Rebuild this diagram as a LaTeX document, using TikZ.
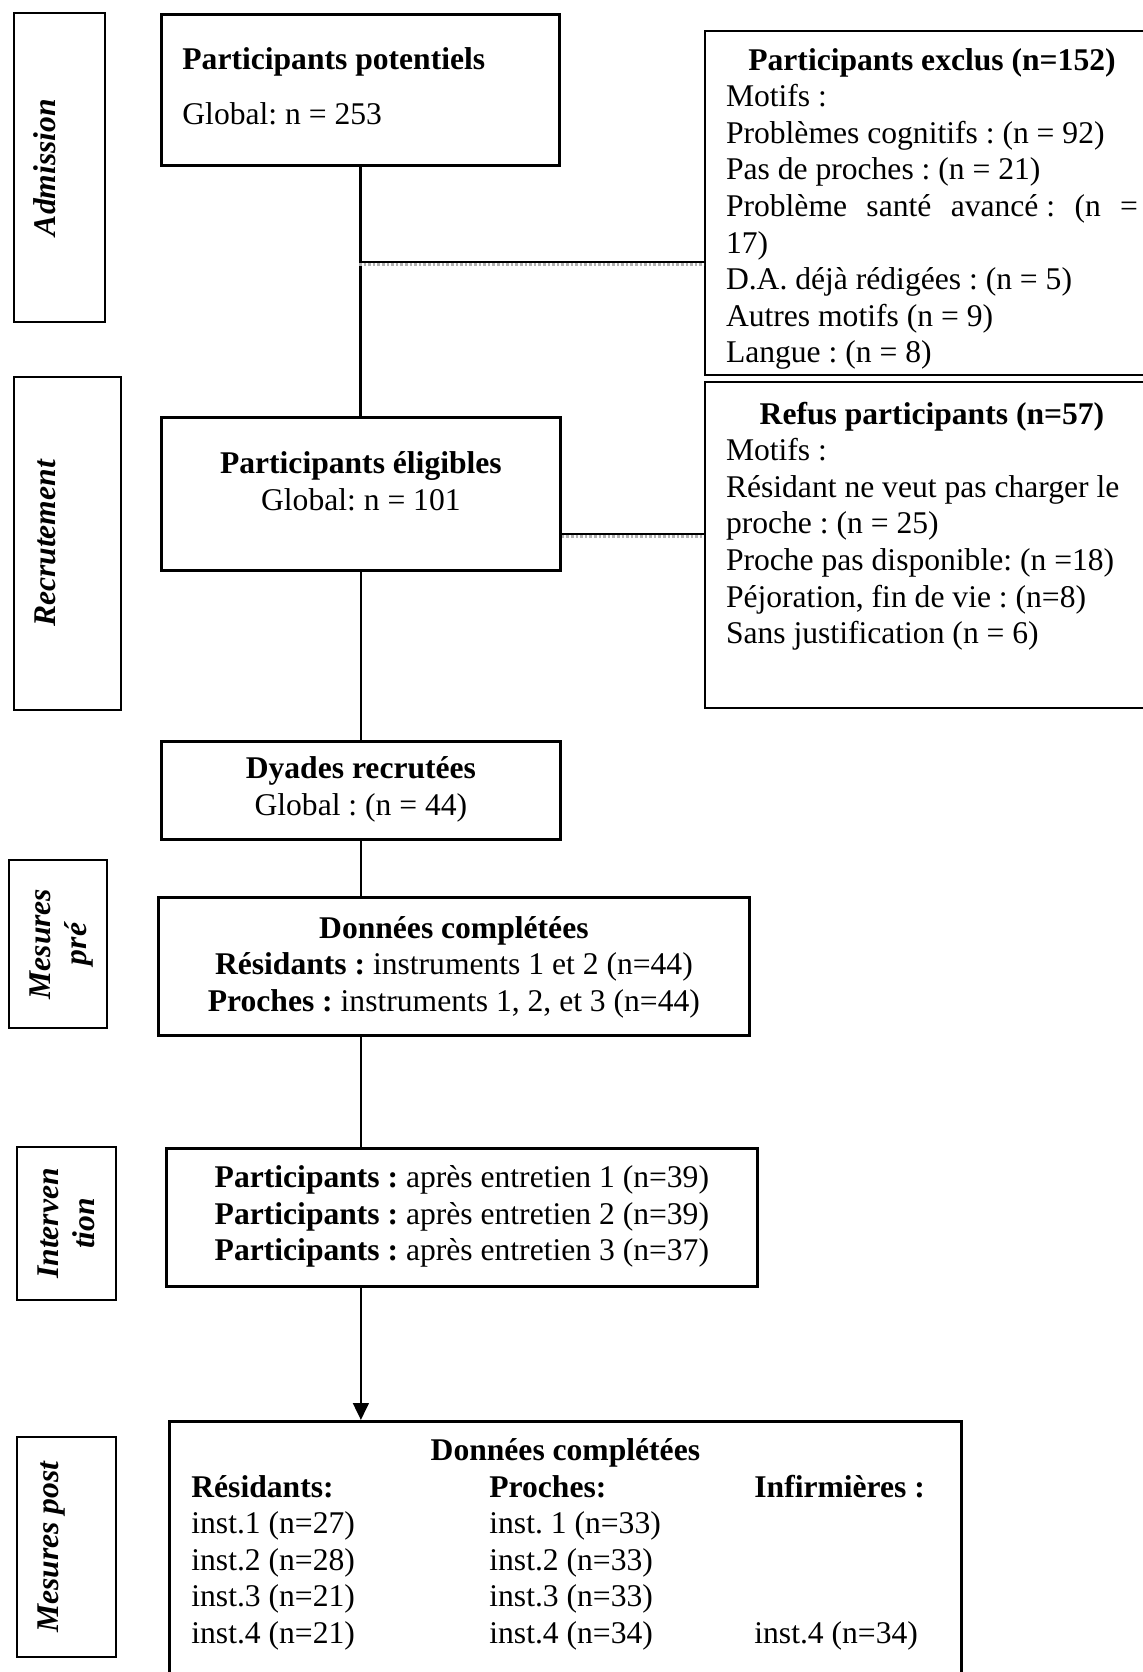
\documentclass[tikz,border=0pt]{standalone}
\usepackage{fontspec}
\setmainfont{Liberation Serif}
\usepackage{tikz}
\usetikzlibrary{shapes,arrows.meta,positioning,calc}
\frenchspacing
\newcommand{\diagfont}{\fontsize{15.8pt}{18.3pt}\selectfont}
\tikzstyle{block} = [rectangle, draw, line width=1.4pt, anchor=north west, inner xsep=5pt, inner ysep=0pt, align=flush center]
\tikzstyle{motif} = [rectangle, draw, line width=1pt, anchor=north west, inner xsep=10.5pt, inner ysep=0pt, align=flush left, text width=206pt]
\tikzstyle{phase} = [rectangle, draw, line width=1pt, rotate=90, anchor=north, inner sep=0pt, align=flush center, text height=20.5pt, font=\diagfont\bfseries\itshape]
\tikzstyle{side} = [line width=1.3pt, preaction={draw, gray!60, line width=1.3pt, densely dotted, transform canvas={yshift=-1.35pt}}]
\tikzstyle{spine} = [line width=1.4pt]

\begin{document}
\begin{tikzpicture}[x=0.5pt, y=-0.5pt, font=\diagfont, >={Triangle[length=8.5pt,width=7.8pt]}]
    \useasboundingbox (0,0) rectangle (1143,1672);

    % Admission
    \node[phase, text width=154.5pt, text depth=25pt] (admis) at (13,167.5) {Admission};
    \node[block, align=flush left, inner xsep=10.5pt, text width=178pt, text height=27.5pt, text depth=48pt] (pot) at (160,13)
        {\textbf{Participants potentiels}\\[9.2pt]Global: n = 253};
    \node[motif, text height=19.5pt, text depth=152.5pt] (excl) at (704,30)
        {\makebox[206pt]{\textbf{Participants exclus (n=152)}}\\
         Motifs :\\
         Problèmes cognitifs : (n = 92)\\
         Pas de proches : (n = 21)\\
         \makebox[206pt][s]{Problème santé avancé\kern.25em: (n =}\\
         17)\\
         D.A. déjà rédigées : (n = 5)\\
         Autres motifs (n = 9)\\
         Langue : (n = 8)};

    % Recrutement
    \node[phase, text width=166.5pt, text depth=33pt] (recru) at (13,543.5) {Recrutement};
    \node[block, text width=189.5pt, text height=28pt, text depth=48.5pt] (elig) at (160,416)
        {\textbf{Participants éligibles}\\Global: n = 101};
    \node[motif, text height=21pt, text depth=142pt] (refus) at (704,381)
        {\makebox[206pt]{\textbf{Refus participants (n=57)}}\\
         Motifs :\\
         Résidant ne veut pas charger le\\
         proche : (n = 25)\\
         Proche pas disponible: (n =18)\\
         Péjoration, fin de vie : (n=8)\\
         Sans justification (n = 6)};
    \node[block, text width=189.5pt, text height=18.5pt, text depth=30.5pt] (dyad) at (160,740)
        {\textbf{Dyades recrutées}\\Global : (n = 44)};

    % Mesures pré
    \node[phase, text width=84pt, text depth=28.5pt] (mpre) at (8,944) {Mesures\\pré};
    \node[block, text width=285.5pt, text height=20.3pt, text depth=48.7pt] (pre) at (157,896)
        {\textbf{Données complétées}\\
         \textbf{Résidants :} instruments 1 et 2 (n=44)\\
         \textbf{Proches :} instruments 1, 2, et 3 (n=44)};

    % Intervention
    \node[phase, text width=76.5pt, text depth=29pt] (minter) at (16,1223.5) {Interven\\tion};
    \node[block, text width=285.5pt, text height=19.5pt, text depth=49.5pt] (interv) at (165,1147)
        {\textbf{Participants :} après entretien 1 (n=39)\\
         \textbf{Participants :} après entretien 2 (n=39)\\
         \textbf{Participants :} après entretien 3 (n=37)};

    % Mesures post
    \node[phase, text width=110pt, text depth=29pt] (mpost) at (16,1547) {Mesures post};
    \node[block, inner xsep=11pt, text width=374pt, text height=19.5pt, text depth=115.5pt] (post) at (168,1420)
        {\textbf{Données complétées}\\
         \begin{tabular}[t]{@{}p{149pt}@{}p{132.5pt}@{}p{92.5pt}@{}}
         \textbf{Résidants:} & \textbf{Proches:} & \textbf{Infirmières :}\\
         inst.1 (n=27) & inst. 1 (n=33) & \\
         inst.2 (n=28) & inst.2 (n=33) & \\
         inst.3 (n=21) & inst.3 (n=33) & \\
         inst.4 (n=21) & inst.4 (n=34) & inst.4 (n=34)
         \end{tabular}};

    % Liens
    \coordinate (j1) at (359,262);
    \coordinate (j2) at ($(elig.east)+(0,40)$);
    \draw[spine] (pot.south) -- (pot.south |- elig.north);
    \draw[side] (j1) -- (j1 -| excl.west);
    \draw[side] (j2) -- (j2 -| refus.west);
    \draw[spine] (elig.south) -- (elig.south |- dyad.north);
    \draw[spine] (dyad.south) -- (dyad.south |- pre.north);
    \draw[spine] (dyad.south |- pre.south) -- (dyad.south |- interv.north);
    \draw[spine, ->] (dyad.south |- interv.south) -- (dyad.south |- post.north);
\end{tikzpicture}
\end{document}
